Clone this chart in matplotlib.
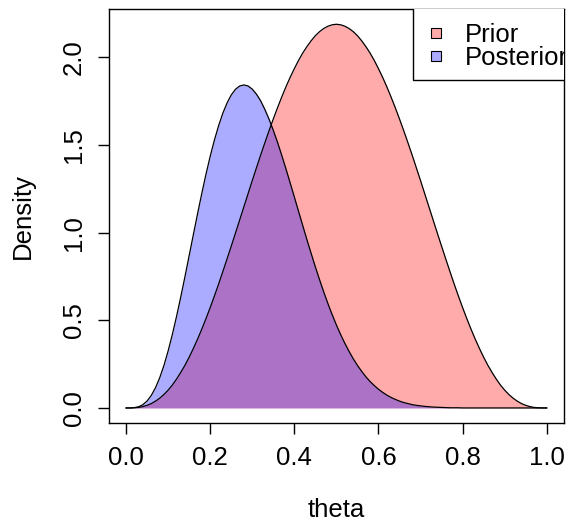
import matplotlib.pyplot as plt
from matplotlib.patches import Rectangle

plt.rcParams['font.family'] = ['Liberation Sans', 'DejaVu Sans']

# theta grid (0 to 1 by 0.01) and densities
theta = [0.00, 0.01, 0.02, 0.03, 0.04, 0.05, 0.06, 0.07, 0.08, 0.09,
         0.10, 0.11, 0.12, 0.13, 0.14, 0.15, 0.16, 0.17, 0.18, 0.19,
         0.20, 0.21, 0.22, 0.23, 0.24, 0.25, 0.26, 0.27, 0.28, 0.29,
         0.30, 0.31, 0.32, 0.33, 0.34, 0.35, 0.36, 0.37, 0.38, 0.39,
         0.40, 0.41, 0.42, 0.43, 0.44, 0.45, 0.46, 0.47, 0.48, 0.49,
         0.50, 0.51, 0.52, 0.53, 0.54, 0.55, 0.56, 0.57, 0.58, 0.59,
         0.60, 0.61, 0.62, 0.63, 0.64, 0.65, 0.66, 0.67, 0.68, 0.69,
         0.70, 0.71, 0.72, 0.73, 0.74, 0.75, 0.76, 0.77, 0.78, 0.79,
         0.80, 0.81, 0.82, 0.83, 0.84, 0.85, 0.86, 0.87, 0.88, 0.89,
         0.90, 0.91, 0.92, 0.93, 0.94, 0.95, 0.96, 0.97, 0.98, 0.99, 1.00]

prior = [0.000, 0.000, 0.001, 0.003, 0.008, 0.015, 0.025, 0.039, 0.056, 0.077,
         0.102, 0.131, 0.165, 0.203, 0.244, 0.290, 0.340, 0.393, 0.450, 0.510,
         0.573, 0.639, 0.707, 0.778, 0.850, 0.923, 0.997, 1.072, 1.147, 1.222,
         1.297, 1.370, 1.443, 1.513, 1.582, 1.648, 1.712, 1.773, 1.831, 1.885,
         1.935, 1.982, 2.024, 2.061, 2.094, 2.123, 2.146, 2.164, 2.177, 2.185,
         2.188, 2.185, 2.177, 2.164, 2.146, 2.123, 2.094, 2.061, 2.024, 1.982,
         1.935, 1.885, 1.831, 1.773, 1.712, 1.648, 1.582, 1.513, 1.443, 1.370,
         1.297, 1.222, 1.147, 1.072, 0.997, 0.923, 0.850, 0.778, 0.707, 0.639,
         0.573, 0.510, 0.450, 0.393, 0.340, 0.290, 0.244, 0.203, 0.165, 0.131,
         0.102, 0.077, 0.056, 0.039, 0.025, 0.015, 0.008, 0.003, 0.001, 0.000, 0.000]

posterior = [0.000, 0.000, 0.002, 0.007, 0.019, 0.040, 0.072, 0.116, 0.173, 0.243,
             0.326, 0.420, 0.523, 0.634, 0.750, 0.870, 0.990, 1.109, 1.224, 1.334,
             1.436, 1.528, 1.610, 1.681, 1.739, 1.785, 1.817, 1.836, 1.842, 1.836,
             1.818, 1.789, 1.751, 1.702, 1.646, 1.583, 1.515, 1.441, 1.364, 1.284,
             1.203, 1.121, 1.040, 0.959, 0.881, 0.804, 0.731, 0.661, 0.594, 0.532,
             0.473, 0.419, 0.369, 0.323, 0.281, 0.243, 0.209, 0.178, 0.151, 0.128,
             0.107, 0.089, 0.073, 0.060, 0.049, 0.039, 0.031, 0.025, 0.019, 0.015,
             0.012, 0.009, 0.007, 0.005, 0.004, 0.003, 0.002, 0.001, 0.001, 0.001,
             0.000, 0.000, 0.000, 0.000, 0.000, 0.000, 0.000, 0.000, 0.000, 0.000,
             0.000, 0.000, 0.000, 0.000, 0.000, 0.000, 0.000, 0.000, 0.000, 0.000, 0.000]

labels = ['Prior', 'Posterior']
fills = [(1, 0, 0, 0.33), (0, 0, 1, 0.33)]

fs = 18.5
W, H = 569, 522
fig = plt.figure(figsize=(W / 100, H / 100), dpi=100)
ax = fig.add_axes([109.3 / W, 1 - 423.3 / H, 454.2 / W, 414.3 / H])

for dens, col in zip([prior, posterior], fills):
    ax.fill_between(theta, 0, dens, color=col, lw=0)
    ax.plot(theta, dens, color='black', lw=0.9)

ax.set_xlim(-0.04, 1.04)
ax.set_ylim(-0.0875, 2.275)
ax.set_xticks([0.0, 0.2, 0.4, 0.6, 0.8, 1.0])
ax.set_xticklabels(['0.0', '0.2', '0.4', '0.6', '0.8', '1.0'])
ax.set_yticks([0.0, 0.5, 1.0, 1.5, 2.0])
ax.set_yticklabels(['0.0', '0.5', '1.0', '1.5', '2.0'])
ax.tick_params(length=7.9, width=1.0, labelsize=fs, pad=8.8)
ax.tick_params(axis='y', labelrotation=90)
for lab in ax.get_yticklabels():
    lab.set_va('center')
for sp in ax.spines.values():
    sp.set_linewidth(1.0)

fig.text(336.4 / W, 1 - 510 / H, 'theta', ha='center', va='center', fontsize=fs)
fig.text(23 / W, 1 - 216.2 / H, 'Density', ha='center', va='center',
         rotation=90, fontsize=fs)

# legend box in the top-right corner, clipped by the plot region like R does
ax.add_patch(Rectangle((0.683, 1.871), 1.0, 1.0, facecolor='white',
                       edgecolor='black', lw=1.0, zorder=5))
sq_y = [2.110, 1.979]
txt_y = [2.089, 1.956]
for lab, col, sy, ty in zip(labels, fills, sq_y, txt_y):
    ax.add_patch(Rectangle((0.7245, sy), 0.0238, 0.057, facecolor=col,
                           edgecolor='black', lw=0.8, zorder=6))
    ax.text(0.806, ty, lab, fontsize=fs, va='baseline', ha='left',
            clip_on=True, zorder=7)

fig.savefig('out.png', dpi=100)
